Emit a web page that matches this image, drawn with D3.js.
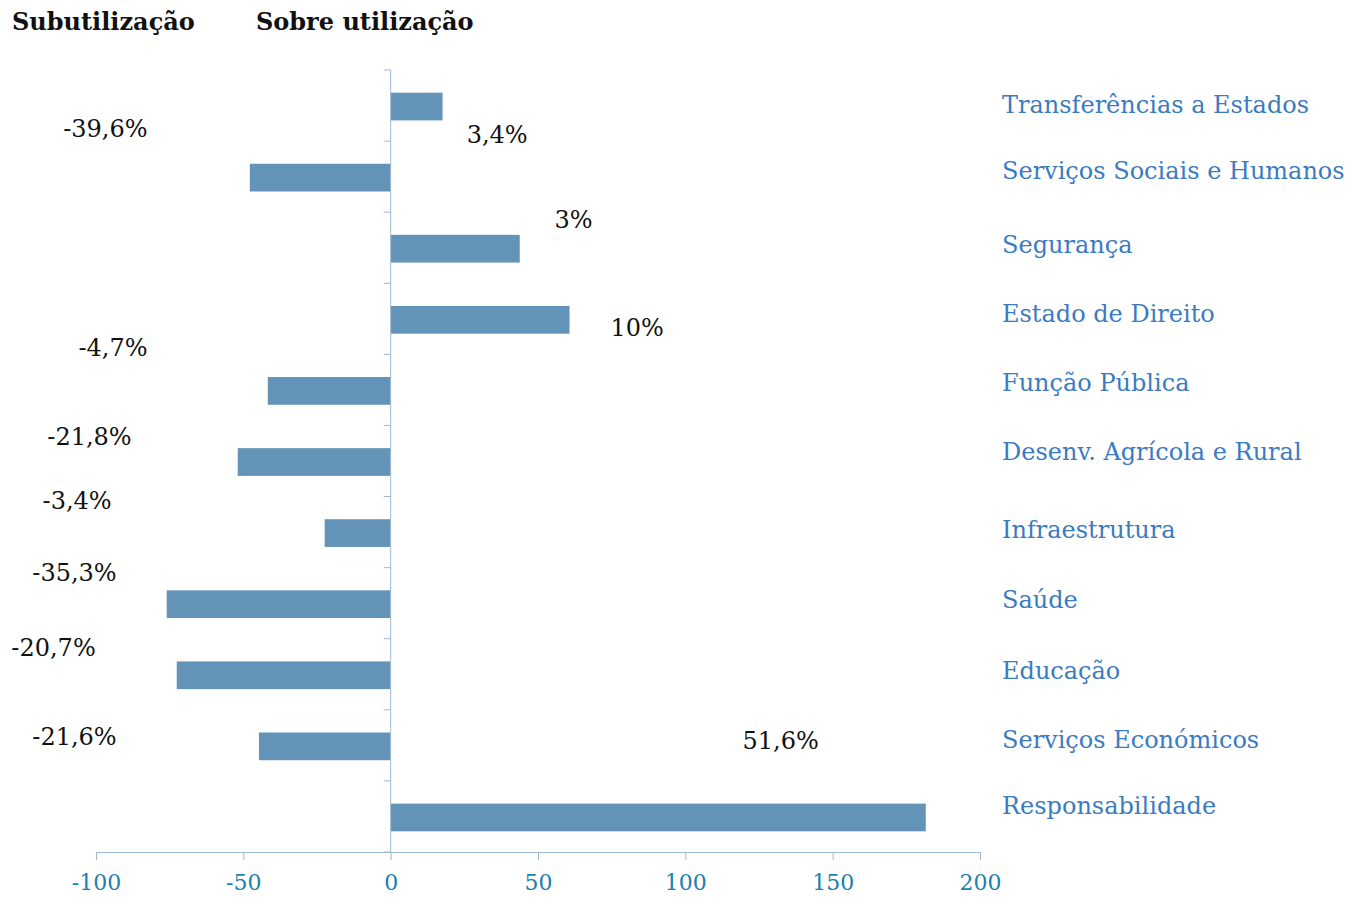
<!DOCTYPE html>
<html>
<head>
<meta charset="utf-8">
<script src="https://cdn.jsdelivr.net/npm/d3@7"></script>
<style>
  body { margin: 0; background: #fff; }
  svg text { font-family: "DejaVu Serif", "Liberation Serif", serif; }
</style>
</head>
<body>
<svg id="chart" width="1351" height="900"></svg>
<script>
// categories top -> bottom
const categories = [
  "Transferências a Estados",
  "Serviços Sociais e Humanos",
  "Segurança",
  "Estado de Direito",
  "Função Pública",
  "Desenv. Agrícola e Rural",
  "Infraestrutura",
  "Saúde",
  "Educação",
  "Serviços Económicos",
  "Responsabilidade"
];
// category labels sit a little off the band centres in the picture (row units)
const categoryRow = [0.48, 1.41, 2.45, 3.42, 4.40, 5.37, 6.47, 7.45, 8.45, 9.42, 10.35];

// bar lengths
const values = [17.6, -47.8, 43.8, 60.7, -41.7, -51.9, -22.4, -76, -72.6, -44.7, 181.6];

// the percentage annotations as they sit in the picture (x in axis units, row in bands)
const valueLabels = ["3,4%", "3%", "10%", "51,6%", "-39,6%", "-4,7%", "-21,8%", "-3,4%", "-35,3%", "-20,7%", "-21,6%"];
const labelX = [25.8, 55.6, 74.6, 119.4, -82.5, -82.5, -87.9, -94.7, -93, -100.1, -93];
const labelRow = [0.91, 2.11, 3.63, 9.44, 0.82, 3.90, 5.15, 6.06, 7.07, 8.12, 9.38];

const xTicks = [-100, -50, 0, 50, 100, 150, 200];

const svg = d3.select("#chart");
const margin = { top: 70, left: 96, right: 371, bottom: 48 };
const W = 1351, H = 900;

const x = d3.scaleLinear().domain([-100, 200]).range([margin.left, W - margin.right]);
const y = d3.scaleBand().domain(d3.range(categories.length))
  .range([margin.top, H - margin.bottom]).paddingInner(0.61).paddingOuter(0.305);
const rowY = d3.scaleLinear().domain([0, categories.length]).range([margin.top, H - margin.bottom]);

const axisColor = "#9dbad5";

// bars
svg.append("g").selectAll("rect")
  .data(values)
  .join("rect")
  .attr("x", d => x(Math.min(0, d)))
  .attr("width", d => Math.abs(x(d) - x(0)))
  .attr("y", (d, i) => y(i) + 1)
  .attr("height", y.bandwidth())
  .attr("fill", "#6394b8");

// bottom axis
const gx = svg.append("g")
  .attr("transform", `translate(0,${H - margin.bottom})`)
  .call(d3.axisBottom(x).tickValues(xTicks).tickFormat(d => String(d))
    .tickSize(8).tickSizeOuter(0).tickPadding(14));
gx.select(".domain").attr("stroke", axisColor);
gx.selectAll(".tick line").attr("stroke", axisColor);
gx.selectAll(".tick text")
  .attr("fill", "#1c7fae")
  .attr("font-size", 22)
  .style("font-family", '"DejaVu Serif", serif');

// vertical axis at zero with category ticks
const gy = svg.append("g").attr("transform", `translate(${x(0)},0)`);
gy.append("line")
  .attr("y1", rowY(0)).attr("y2", rowY(categories.length))
  .attr("stroke", axisColor);
gy.selectAll("line.tk")
  .data(d3.range(categories.length + 1))
  .join("line")
  .attr("class", "tk")
  .attr("x1", -7).attr("x2", 0)
  .attr("y1", d => rowY(d)).attr("y2", d => rowY(d))
  .attr("stroke", axisColor);

// category labels on the right
svg.append("g").selectAll("text")
  .data(categories)
  .join("text")
  .attr("x", 1002)
  .attr("y", (d, i) => rowY(categoryRow[i]))
  .attr("dy", "0.35em")
  .attr("fill", "#3b7bbf")
  .attr("font-size", 24)
  .text(d => d);

// percentage annotations
svg.append("g").selectAll("text")
  .data(valueLabels)
  .join("text")
  .attr("x", (d, i) => x(labelX[i]))
  .attr("y", (d, i) => rowY(labelRow[i]))
  .attr("dy", "0.35em")
  .attr("text-anchor", (d, i) => labelX[i] < 0 ? "end" : "start")
  .attr("fill", "#111")
  .attr("font-size", 24)
  .text(d => d);

// headings
svg.append("text").attr("x", 12).attr("y", 22).attr("dy", "0.35em")
  .attr("font-size", 24).attr("font-weight", "bold").attr("fill", "#111")
  .text("Subutilização");
svg.append("text").attr("x", 256).attr("y", 22).attr("dy", "0.35em")
  .attr("font-size", 24).attr("font-weight", "bold").attr("fill", "#111")
  .text("Sobre utilização");
</script>
</body>
</html>
